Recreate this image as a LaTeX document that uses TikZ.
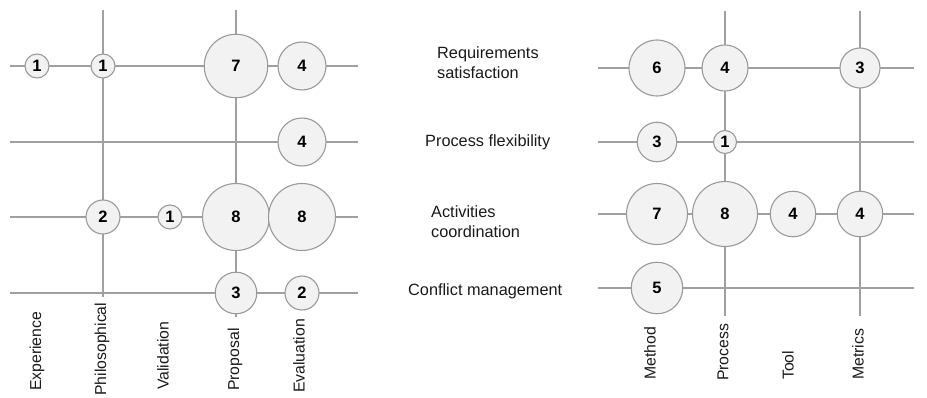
\documentclass[tikz,border=0pt]{standalone}
\usepackage{fontspec}
\setmainfont{Liberation Sans}
\definecolor{linegray}{HTML}{A0A0A0}
\definecolor{bubline}{HTML}{9A9A9A}
\definecolor{bubfill}{HTML}{F2F2F2}
\definecolor{txt}{HTML}{1A1A1A}
\begin{document}
\begin{tikzpicture}[x=1pt,y=-1pt,
  gridline/.style={draw=linegray, line width=1.2pt},
  bub/.style={circle, draw=bubline, fill=bubfill, line width=1.1pt, inner sep=0pt,
    minimum size=#1, text=black, font=\fontsize{16.5}{18}\selectfont\bfseries},
  collab/.style={rotate=90, anchor=west, inner sep=0pt, text=txt,
    font=\fontsize{15.8}{18}\selectfont},
  rowlab/.style={anchor=west, align=left, inner sep=0pt, text=txt,
    font=\fontsize{16.3}{20}\selectfont}]
\useasboundingbox (0,0) rectangle (927,398);

% ---------------- Left chart ----------------
\foreach \r/\y in {1/66,2/142,3/217,4/293}{
  \coordinate (LW\r) at (10,\y);
  \coordinate (LE\r) at (358,\y);
}
\coordinate (LPhT) at (103,10);
\coordinate (LPhB) at (103,297);
\coordinate (LPrT) at (236,10);
\coordinate (LPrB) at (236,317);
\foreach \r in {1,2,3,4}{ \draw[gridline] (LW\r) -- (LE\r); }
\draw[gridline] (LPhT) -- (LPhB);
\draw[gridline] (LPrT) -- (LPrB);

% bubbles (diameter = 24*sqrt(n))
\node[bub=24]   (La1) at (37,66)   {1};
\node[bub=24]   (La2) at (103,66)  {1};
\node[bub=63.5] (La4) at (236,66)  {7};
\node[bub=48]   (La5) at (302,66)  {4};
\node[bub=48]   (Lb5) at (302,142) {4};
\node[bub=34]   (Lc2) at (103,217) {2};
\node[bub=24]   (Lc3) at (170,217) {1};
\node[bub=67]   (Lc4) at (236,217) {8};
\node[bub=67]   (Lc5) at (302,217) {8};
\node[bub=41.6] (Ld4) at (236,293) {3};
\node[bub=34]   (Ld5) at (302,293) {2};

% column labels
\node[collab] (LxExp) at (37,391)  {Experience};
\node[collab] (LxPhi) at (102,396) {Philosophical};
\node[collab] (LxVal) at (163,390) {Validation};
\node[collab] (LxPro) at (235,391) {Proposal};
\node[collab] (LxEva) at (299,393) {Evaluation};

% ---------------- Right chart ----------------
\foreach \r/\y in {1/68,2/142,3/214,4/288}{
  \coordinate (RW\r) at (598,\y);
  \coordinate (RE\r) at (914,\y);
}
\coordinate (RPcT) at (725,11);
\coordinate (RPcB) at (725,316);
\coordinate (RMtT) at (860,11);
\coordinate (RMtB) at (860,316);
\foreach \r in {1,2,3,4}{ \draw[gridline] (RW\r) -- (RE\r); }
\draw[gridline] (RPcT) -- (RPcB);
\draw[gridline] (RMtT) -- (RMtB);

% bubbles (diameter = 23*sqrt(n))
\node[bub=56]   (Ra1) at (657,68)  {6};
\node[bub=46]   (Ra2) at (725,68)  {4};
\node[bub=40]   (Ra4) at (860,68)  {3};
\node[bub=39.5] (Rb1) at (657,142) {3};
\node[bub=23]   (Rb2) at (725,142) {1};
\node[bub=61]   (Rc1) at (657,214) {7};
\node[bub=65]   (Rc2) at (725,214) {8};
\node[bub=45.5] (Rc3) at (793,214) {4};
\node[bub=45.5] (Rc4) at (860,214) {4};
\node[bub=51.5] (Rd1) at (657,288) {5};

% row labels
\node[rowlab] (RyReq) at (437,63)  {Requirements\\satisfaction};
\node[rowlab] (RyFlx) at (425,142) {Process flexibility};
\node[rowlab] (RyAct) at (431,222) {Activities\\coordination};
\node[rowlab] (RyCon) at (408,291) {Conflict management};

% column labels
\node[collab] (RxMet) at (650,380) {Method};
\node[collab] (RxPro) at (723,381) {Process};
\node[collab] (RxToo) at (788,380) {Tool};
\node[collab] (RxMtr) at (858,380) {Metrics};
\end{tikzpicture}
\end{document}
